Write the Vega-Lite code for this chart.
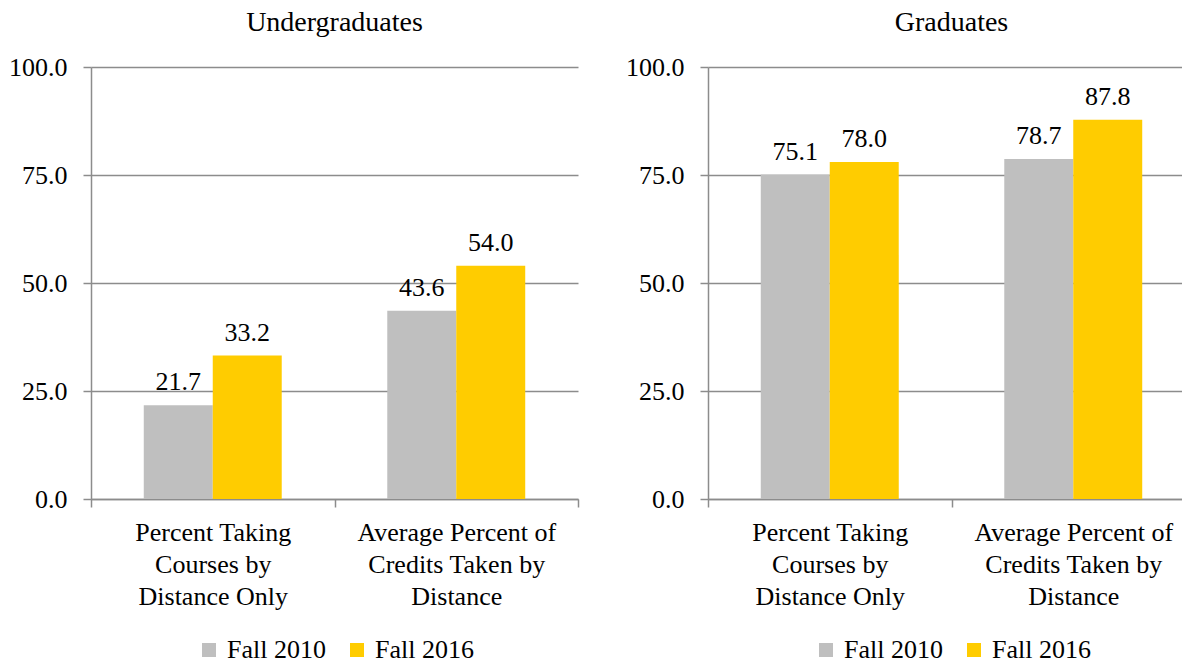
{
  "$schema": "https://vega.github.io/schema/vega-lite/v6.json",
  "padding": {"left": 8, "top": 9, "right": 0, "bottom": 0},
  "background": "white",
  "config": {
    "font": "Liberation Serif",
    "view": {"stroke": null},
    "axis": {
      "labelFont": "Liberation Serif",
      "labelFontSize": 26,
      "labelColor": "#000000",
      "domainColor": "#8c8c8c",
      "tickColor": "#8c8c8c",
      "gridColor": "#8c8c8c",
      "domainWidth": 1.5,
      "tickWidth": 1.5,
      "gridWidth": 1.5,
      "tickSize": 8,
      "title": null
    },
    "title": {"font": "Liberation Serif", "fontSize": 28, "fontWeight": "normal", "color": "#000000", "anchor": "middle", "offset": 17},
    "legend": {
      "labelFont": "Liberation Serif",
      "labelFontSize": 26,
      "labelColor": "#000000",
      "symbolType": "square",
      "symbolSize": 196,
      "symbolStrokeWidth": 0,
      "symbolOpacity": 1,
      "columnPadding": 18,
      "labelOffset": 5,
      "layout": {"bottom": {"anchor": "middle"}}
    },
    "concat": {"spacing": 46}
  },
  "data": {
    "values": [
      {"level": "Undergraduates", "measure": "Percent Taking Courses by Distance Only", "year": "Fall 2010", "value": 21.7},
      {"level": "Undergraduates", "measure": "Percent Taking Courses by Distance Only", "year": "Fall 2016", "value": 33.2},
      {"level": "Undergraduates", "measure": "Average Percent of Credits Taken by Distance", "year": "Fall 2010", "value": 43.6},
      {"level": "Undergraduates", "measure": "Average Percent of Credits Taken by Distance", "year": "Fall 2016", "value": 54.0},
      {"level": "Graduates", "measure": "Percent Taking Courses by Distance Only", "year": "Fall 2010", "value": 75.1},
      {"level": "Graduates", "measure": "Percent Taking Courses by Distance Only", "year": "Fall 2016", "value": 78.0},
      {"level": "Graduates", "measure": "Average Percent of Credits Taken by Distance", "year": "Fall 2010", "value": 78.7},
      {"level": "Graduates", "measure": "Average Percent of Credits Taken by Distance", "year": "Fall 2016", "value": 87.8}
    ]
  },
  "hconcat": [
    {
      "width": 487,
      "height": 432,
      "title": {"text": "Undergraduates"},
      "transform": [{"filter": "datum.level == 'Undergraduates'"}],
      "encoding": {
        "x": {
          "field": "measure", "type": "nominal",
          "sort": ["Percent Taking Courses by Distance Only", "Average Percent of Credits Taken by Distance"],
          "scale": {"paddingInner": 0, "paddingOuter": 0},
          "axis": {"labelAngle": 0, "tickBand": "extent", "grid": false, "labelLimit": 0, "labelLineHeight": 32, "labelPadding": 12, "labelBaseline": "top",
            "labelExpr": "datum.value == 'Percent Taking Courses by Distance Only' ? ['Percent Taking', 'Courses by', 'Distance Only'] : datum.value == 'Average Percent of Credits Taken by Distance' ? ['Average Percent of', 'Credits Taken by', 'Distance'] : ''"}
        },
        "xOffset": {"field": "year", "type": "nominal", "sort": ["Fall 2010", "Fall 2016"], "scale": {"paddingInner": 0, "paddingOuter": 0.765}},
        "y": {
          "field": "value", "type": "quantitative",
          "scale": {"domain": [0, 100], "nice": false},
          "axis": {"values": [0, 25, 50, 75, 100], "format": ".1f", "grid": true, "labelPadding": 16}
        }
      },
      "layer": [
        {
          "mark": {"type": "bar"},
          "encoding": {
            "color": {
              "field": "year", "type": "nominal",
              "scale": {"domain": ["Fall 2010", "Fall 2016"], "range": ["#BFBFBF", "#FFCC00"]},
              "legend": {"orient": "bottom", "direction": "horizontal", "title": null, "offset": 28}
            }
          }
        },
        {
          "mark": {"type": "text", "dy": -15, "baseline": "alphabetic", "fontSize": 26, "font": "Liberation Serif", "color": "#000000"},
          "encoding": {"text": {"field": "value", "type": "quantitative", "format": ".1f"}}
        }
      ]
    },
    {
      "width": 487,
      "height": 432,
      "title": {"text": "Graduates"},
      "transform": [{"filter": "datum.level == 'Graduates'"}],
      "encoding": {
        "x": {
          "field": "measure", "type": "nominal",
          "sort": ["Percent Taking Courses by Distance Only", "Average Percent of Credits Taken by Distance"],
          "scale": {"paddingInner": 0, "paddingOuter": 0},
          "axis": {"labelAngle": 0, "tickBand": "extent", "grid": false, "labelLimit": 0, "labelLineHeight": 32, "labelPadding": 12, "labelBaseline": "top",
            "labelExpr": "datum.value == 'Percent Taking Courses by Distance Only' ? ['Percent Taking', 'Courses by', 'Distance Only'] : datum.value == 'Average Percent of Credits Taken by Distance' ? ['Average Percent of', 'Credits Taken by', 'Distance'] : ''"}
        },
        "xOffset": {"field": "year", "type": "nominal", "sort": ["Fall 2010", "Fall 2016"], "scale": {"paddingInner": 0, "paddingOuter": 0.765}},
        "y": {
          "field": "value", "type": "quantitative",
          "scale": {"domain": [0, 100], "nice": false},
          "axis": {"values": [0, 25, 50, 75, 100], "format": ".1f", "grid": true, "labelPadding": 16}
        }
      },
      "layer": [
        {
          "mark": {"type": "bar"},
          "encoding": {
            "color": {
              "field": "year", "type": "nominal",
              "scale": {"domain": ["Fall 2010", "Fall 2016"], "range": ["#BFBFBF", "#FFCC00"]},
              "legend": {"orient": "bottom", "direction": "horizontal", "title": null, "offset": 28}
            }
          }
        },
        {
          "mark": {"type": "text", "dy": -15, "baseline": "alphabetic", "fontSize": 26, "font": "Liberation Serif", "color": "#000000"},
          "encoding": {"text": {"field": "value", "type": "quantitative", "format": ".1f"}}
        }
      ]
    }
  ],
  "resolve": {"legend": {"color": "independent"}}
}
